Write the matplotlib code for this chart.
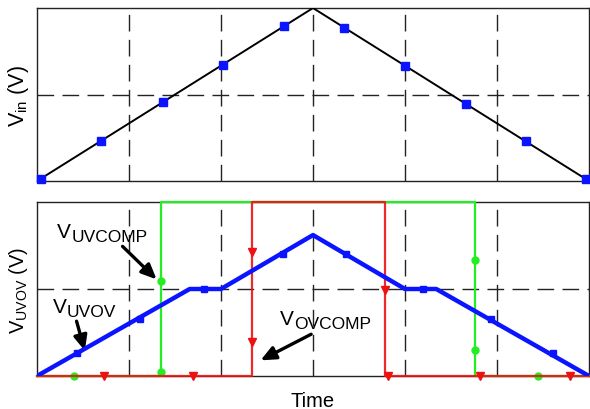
import matplotlib
matplotlib.use("Agg")
import matplotlib.pyplot as plt

plt.rcParams['font.family'] = ['Liberation Sans', 'DejaVu Sans']
plt.rcParams['mathtext.fontset'] = 'custom'
plt.rcParams['mathtext.rm'] = 'Liberation Sans'

# ---------------------
# Data (time in grid divisions)
# ---------------------
vin_t = [0.0, 3.0, 6.0]
vin_v = [0.0, 2.0, 0.0]
vin_mark_t = [0.04, 0.70, 1.37, 2.02, 2.68, 3.34, 4.00, 4.66, 5.31, 5.97]

uvov_t = [0.0, 1.66, 2.0, 3.0, 4.0, 4.34, 6.0]
uvov_v = [0.0, 1.0, 1.0, 1.62, 1.0, 1.0, 0.0]
uvov_mark_t = [0.43, 1.12, 1.82, 2.67, 3.36, 4.20, 4.93, 5.61]
uvov_mark_v = [0.26, 0.66, 1.0, 1.40, 1.40, 1.0, 0.66, 0.26]

uvcomp_t = [0.0, 1.35, 1.35, 4.76, 4.76, 6.0]
uvcomp_v = [0.0, 0.0, 2.0, 2.0, 0.0, 0.0]
uvcomp_mark_t = [0.40, 1.35, 1.35, 4.76, 4.76, 5.45]
uvcomp_mark_v = [0.0, 0.05, 1.09, 1.33, 0.30, 0.0]

ovcomp_t = [0.0, 2.34, 2.34, 3.78, 3.78, 6.0]
ovcomp_v = [0.0, 0.0, 2.0, 2.0, 0.0, 0.0]
ovcomp_mark_t = [0.73, 1.70, 2.34, 2.34, 3.78, 3.82, 4.81, 5.79]
ovcomp_mark_v = [0.0, 0.0, 1.43, 0.39, 0.99, 0.0, 0.0, 0.0]

grid_t = [1, 2, 3, 4, 5]
grid_v = [1]


def style_axes(ax):
    ax.set_xlim(0, 6)
    ax.set_ylim(0, 2)
    ax.set_xticks([])
    ax.set_yticks([])
    for t in grid_t:
        ax.axvline(t, color='#222222', lw=1.0, dashes=(12, 6), zorder=1)
    for v in grid_v:
        ax.axhline(v, color='#222222', lw=1.0, dashes=(12, 6), zorder=1)
    for s in ax.spines.values():
        s.set_linewidth(1.0)
        s.set_color('#222222')


def v_label(ax, x, y, sub, fs=15, sfs=12.5):
    # "V" with a large subscript, placed in data coords (baseline of the V)
    t = ax.text(x, y, 'V', fontsize=fs, va='baseline', zorder=6)
    ax.annotate(sub, xy=(1, 0), xycoords=t, xytext=(0.3, -2.5),
                textcoords='offset points', fontsize=sfs, va='bottom',
                zorder=6)


fig = plt.figure(figsize=(5.9, 4.1), dpi=100)
ax1 = fig.add_axes([0.0627, 0.556, 0.9356, 0.422])
ax2 = fig.add_axes([0.0627, 0.0805, 0.9356, 0.4244])

# top: input voltage ramp
style_axes(ax1)
vin_mark_v = [2 * t / 3 if t <= 3 else 2 * (6 - t) / 3 for t in vin_mark_t]
ax1.plot(vin_t, vin_v, color='black', lw=1.4, zorder=3)
ax1.plot(vin_mark_t, vin_mark_v, 's', color='#0a14ff', ms=5.5, zorder=4,
         clip_on=False)
ax1.set_ylabel(r'V$_{\mathregular{in}}$ (V)', fontsize=15.5, labelpad=4)

# bottom: UVOV pin and comparators
style_axes(ax2)
ax2.plot(uvcomp_t, uvcomp_v, color='#22ee22', lw=1.6, zorder=3, clip_on=False)
ax2.plot(uvcomp_mark_t, uvcomp_mark_v, 'o', color='#22ee22', ms=5, zorder=3,
         clip_on=False)
ax2.plot(ovcomp_t, ovcomp_v, color='#ee1111', lw=1.6, alpha=0.9, zorder=4,
         clip_on=False)
ax2.plot(ovcomp_mark_t, ovcomp_mark_v, 'v', color='#ee1111', ms=6, zorder=4,
         clip_on=False)
ax2.plot(uvov_t, uvov_v, color='#0a14ff', lw=3.2, zorder=5,
         solid_capstyle='butt')
ax2.plot(uvov_mark_t, uvov_mark_v, 's', color='#0a14ff', ms=5, zorder=5)
ax2.set_ylabel(r'V$_{\mathregular{UVOV}}$ (V)', fontsize=14.5, labelpad=5)
ax2.set_xlabel('Time', fontsize=14.5, labelpad=11)

arrow = dict(arrowstyle='-|>,head_length=0.9,head_width=0.4', color='black',
             lw=2.4, shrinkA=0, shrinkB=0)
ax2.annotate('', xy=(1.30, 1.11), xytext=(0.93, 1.49), arrowprops=arrow)
v_label(ax2, 0.22, 1.60, 'UVCOMP')
ax2.annotate('', xy=(0.52, 0.29), xytext=(0.43, 0.63), arrowprops=arrow)
v_label(ax2, 0.17, 0.74, 'UVOV')
ax2.annotate('', xy=(2.43, 0.18), xytext=(2.98, 0.48), arrowprops=arrow)
v_label(ax2, 2.64, 0.60, 'OVCOMP')

fig.savefig('out.png', dpi=100)
